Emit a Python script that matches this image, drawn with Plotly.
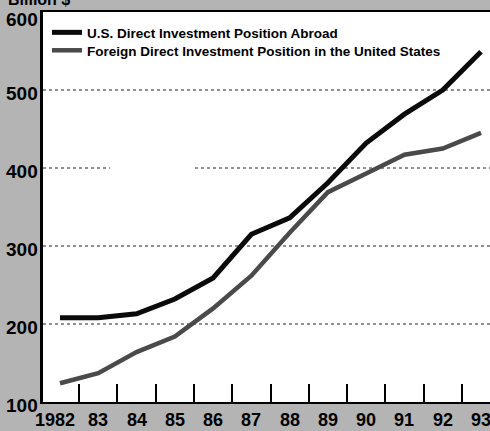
import plotly.graph_objects as go

years = [1982, 1983, 1984, 1985, 1986, 1987, 1988, 1989, 1990, 1991, 1992, 1993]
year_labels = ["1982", "83", "84", "85", "86", "87", "88", "89", "90", "91", "92", "93"]
us_abroad = [208, 208, 213, 232, 259, 315, 336, 381, 432, 469, 500, 549]
foreign_us = [124, 137, 164, 184, 220, 262, 317, 369, 393, 417, 425, 445]
y_ticks = [100, 200, 300, 400, 500, 600]
grid_vals = [200, 300, 400, 500]
names = ["U.S. Direct Investment Position Abroad",
         "Foreign Direct Investment Position in the United States"]

font_family = "Liberation Sans, Arial, sans-serif"

fig = go.Figure()
fig.add_trace(go.Scatter(x=years, y=us_abroad, mode="lines", name=names[0],
                         line=dict(color="#0a0a0a", width=5), legend="legend"))
fig.add_trace(go.Scatter(x=years, y=foreign_us, mode="lines", name=names[1],
                         line=dict(color="#4a4a4a", width=4.5), legend="legend2"))

leg_common = dict(xanchor="left", yanchor="top", bgcolor="rgba(0,0,0,0)",
                  font=dict(family=font_family, size=13.5, color="#000", weight="bold"),
                  itemwidth=30)

fig.update_layout(
    width=490, height=431,
    margin=dict(l=43, r=0, t=12, b=29),
    paper_bgcolor="#b4b4b4",
    plot_bgcolor="#ffffff",
    showlegend=True,
    legend=dict(x=0.009, y=0.987, **leg_common),
    legend2=dict(x=0.009, y=0.941, **leg_common),
    xaxis=dict(range=[1981.556, 1993.235], tickvals=years, showticklabels=False,
               ticks="", showgrid=False, zeroline=False,
               showline=True, linecolor="#000", linewidth=2, mirror=True,
               minor=dict(tick0=1982.5, dtick=1, ticks="inside", ticklen=18,
                          tickwidth=2, tickcolor="#000", showgrid=False)),
    yaxis=dict(range=[100, 600], tickvals=y_ticks, ticks="", showticklabels=False,
               showgrid=False, zeroline=False, showline=True,
               linecolor="#000", linewidth=2.5, mirror=False),
)

# dotted gridlines (the 400 line has a gap in the original print)
for gv in grid_vals:
    segs = [(0, 1)] if gv != 400 else [(0, 0.15), (0.34, 1)]
    for a, b in segs:
        fig.add_shape(type="line", xref="paper", yref="y", x0=a, x1=b, y0=gv, y1=gv,
                      line=dict(color="#222", width=1, dash="dot"), layer="below")

# x tick labels
for i, (yr, lab) in enumerate(zip(years, year_labels)):
    fig.add_annotation(text=lab, x=yr, xref="x", y=0, yref="paper",
                       xanchor="center", yanchor="top", yshift=-6,
                       xshift=-5 if i == 0 else 0, showarrow=False,
                       font=dict(family=font_family, size=18, color="#000", weight="bold"))

# y tick labels
for v in y_ticks:
    fig.add_annotation(text=str(v), x=0, xref="paper", y=v, yref="y",
                       xanchor="right", yanchor="middle", xshift=-3,
                       yshift=-7 if v == 600 else -3, showarrow=False,
                       font=dict(family=font_family, size=19, color="#000", weight="bold"))

fig.add_annotation(text="Billion $", xref="paper", yref="paper", x=-0.082, y=1.005,
                   xanchor="left", yanchor="bottom", showarrow=False,
                   font=dict(family=font_family, size=16, color="#000", weight="bold"))
fig.write_html("out.html", post_script="document.body.style.margin='0';",
               config={"displayModeBar": False})
